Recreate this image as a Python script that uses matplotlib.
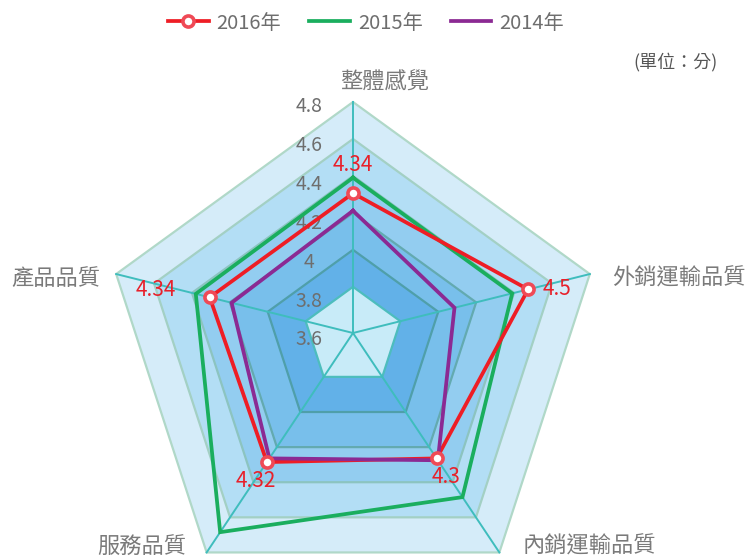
import numpy as np
import matplotlib
matplotlib.use("Agg")
import matplotlib.pyplot as plt
from matplotlib.lines import Line2D
from matplotlib.patches import Polygon

plt.rcParams['font.family'] = ['Noto Sans CJK TC', 'DejaVu Sans']

# datos
categorias = ['整體感覺', '外銷運輸品質', '內銷運輸品質', '服務品質', '產品品質']
anios = ['2016年', '2015年', '2014年']
v2016 = [4.34, 4.5, 4.3, 4.32, 4.34]
v2015 = [4.42, 4.42, 4.51, 4.70, 4.41]
v2014 = [4.25, 4.13, 4.31, 4.30, 4.23]
ticks = [3.6, 3.8, 4.0, 4.2, 4.4, 4.6, 4.8]
vmin, vmax = 3.62, 4.81

# geometria (pixeles)
W, H = 750, 559
c0 = np.array([353.0, 333.0])     # punto de convergencia
cp = np.array([353.0, 351.0])     # centro del pentagono exterior
R = 249.0
ang = np.deg2rad(90 - 72 * np.arange(5))
vert = np.stack([cp[0] + R * np.cos(ang), cp[1] - R * np.sin(ang)], axis=1)


def punto(i, t):
    return c0 + t * (vert[i] - c0)


def poligono(vals):
    ts = [(v - vmin) / (vmax - vmin) for v in vals]
    return np.array([punto(i, t) for i, t in enumerate(ts)])


fig = plt.figure(figsize=(W / 100, H / 100), dpi=100)
ax = fig.add_axes([0, 0, 1, 1])
ax.set_xlim(0, W)
ax.set_ylim(H, 0)
ax.axis('off')

# anillos (de fuera hacia dentro)
anillos = [1.0, 0.84, 0.68, 0.52, 0.36, 0.2]
rellenos = ['#d5ecf9', '#b3def5', '#93cdf0', '#78bfeb', '#62b1e8', '#c8ebf8']
bordes = ['#b0d8c8', '#a3d0c4', '#8cc4c0', '#63aab0', '#4f9faa', '#4dbdbd']
for t, fc, ec in zip(anillos, rellenos, bordes):
    pts = np.array([punto(i, t) for i in range(5)])
    ax.add_patch(Polygon(pts, closed=True, facecolor=fc, edgecolor=ec, lw=1.6, zorder=1))

for i in range(5):
    ax.plot([c0[0], vert[i][0]], [c0[1], vert[i][1]], color='#3fbdbd', lw=1.4, zorder=2)

# etiquetas del eje
for v in ticks:
    t = (v - vmin) / (vmax - vmin)
    y = punto(0, t)[1] + 3
    ax.text(309, y, f'{v:g}', ha='center', va='center', fontsize=14, color='#6e6e6e', zorder=3)

# series
series = [(v2015, '#1aae5e', 3), (v2016, '#ee1d25', 4), (v2014, '#8b2a93', 5)]
for vals, col, z in series:
    p = poligono(vals)
    p = np.vstack([p, p[:1]])
    ax.plot(p[:, 0], p[:, 1], color=col, lw=2.7, solid_joinstyle='miter', zorder=z)

p16 = poligono(v2016)
ax.plot(p16[:, 0], p16[:, 1], ls='none', marker='o', ms=8, mfc='white', mec='#ef4a56',
        mew=2.6, zorder=6)

# etiquetas de datos 2016
offs = [(0, -28, 'center'), (15, 0, 'left'), (9, 19, 'center'), (-11, 19, 'center'), (-34, -7, 'right')]
for (x, y), v, (dx, dy, ha) in zip(p16, v2016, offs):
    ax.text(x + dx, y + dy, f'{v:g}', ha=ha, va='center', fontsize=15, color='#e8202a', zorder=7)

# nombres de indicadores
pos_nom = [(32, -20, 'center'), (22, 4, 'left'), (23, -6, 'left'), (-20, -6, 'right'), (-16, 4, 'right')]
for i, (dx, dy, ha) in enumerate(pos_nom):
    ax.text(vert[i][0] + dx, vert[i][1] + dy, categorias[i], ha=ha, va='center',
            fontsize=16, color='#7a7a7a', zorder=7)

ax.text(718, 62, '(單位：分)', ha='right', va='center', fontsize=13, color='#555555')

# leyenda
handles = [
    Line2D([], [], color='#ee1d25', lw=2.7, marker='o', ms=8, mfc='white', mec='#ef4a56', mew=2.6),
    Line2D([], [], color='#1aae5e', lw=2.7),
    Line2D([], [], color='#8b2a93', lw=2.7),
]
fig.legend(handles, anios, loc='upper center', bbox_to_anchor=(0.488, 1.01), ncol=3,
           frameon=False, fontsize=14.5, handlelength=2.0, handletextpad=0.4,
           columnspacing=1.4, labelcolor='#6e6e6e')

fig.savefig('out.png', dpi=100)
